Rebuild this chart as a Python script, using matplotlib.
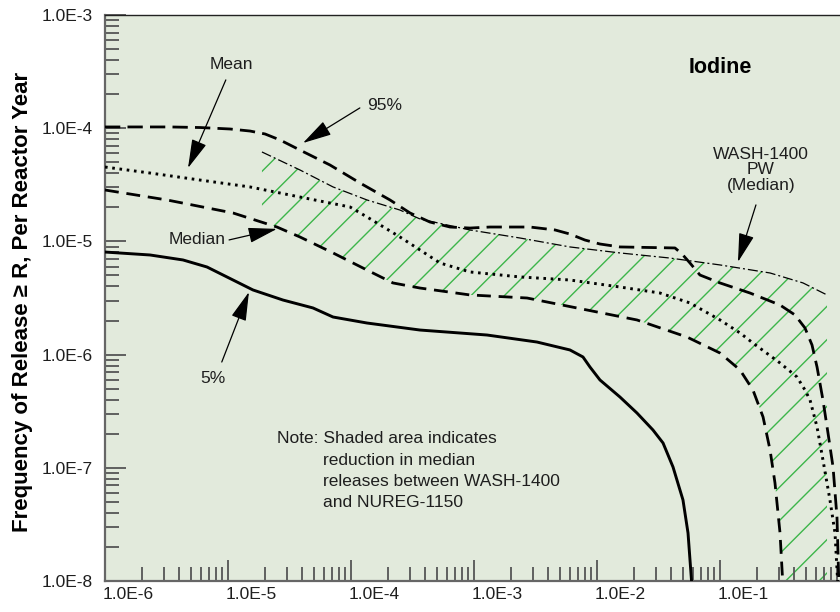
import numpy as np
import matplotlib
matplotlib.use("Agg")
import matplotlib.pyplot as plt
import matplotlib.transforms as mtransforms
from matplotlib import font_manager
from matplotlib.ticker import FixedLocator, LogLocator, NullFormatter

# narrow face if the box has it, else regular Liberation at smaller sizes
names = {f.name for f in font_manager.fontManager.ttflist}
if "Liberation Sans Narrow" in names:
    FAM = ["Liberation Sans Narrow", "DejaVu Sans"]
    FS, FS_Y, FS_T = 15, 19, 18
else:
    FAM = ["Liberation Sans", "DejaVu Sans"]
    FS, FS_Y, FS_T = 12.5, 16, 15.5
plt.rcParams["font.family"] = FAM
plt.rcParams["hatch.linewidth"] = 1.0

BG = "#E2EADC"
GREEN = "#3DB54A"
AXG = "#666666"
TXT = "#1E1E1E"

# ---- data as log10(release), log10(frequency) ----
p95_x = [-6.0, -5.472, -5.228, -4.984, -4.821, -4.699, -4.577, -4.415, -4.171, -3.927,
         -3.683, -3.520, -3.358, -3.195, -3.033, -2.870, -2.545, -2.341, -2.220, -2.098,
         -1.976, -1.813, -1.366, -1.309, -1.244, -1.163, -1.0, -0.756, -0.512, -0.390,
         -0.309, -0.252, -0.211, -0.163, -0.122, -0.081, -0.049, -0.033]
p95_y = [-3.989, -3.989, -3.994, -4.007, -4.025, -4.051, -4.104, -4.193, -4.325, -4.484,
         -4.634, -4.749, -4.829, -4.873, -4.882, -4.873, -4.873, -4.899, -4.935, -4.988,
         -5.023, -5.049, -5.058, -5.111, -5.191, -5.297, -5.367, -5.456, -5.562, -5.650,
         -5.765, -5.915, -6.110, -6.401, -6.693, -6.993, -7.435, -8.05]

mean_x = [-6.0, -5.634, -5.228, -4.821, -4.415, -4.008, -3.870, -3.602, -3.439, -3.276,
          -3.033, -2.626, -2.220, -1.813, -1.488, -1.244, -1.0, -0.837, -0.732, -0.512,
          -0.374, -0.309, -0.268, -0.211, -0.163, -0.106, -0.065, -0.041]
mean_y = [-4.343, -4.396, -4.458, -4.519, -4.608, -4.696, -4.784, -4.961, -5.076, -5.191,
          -5.270, -5.314, -5.341, -5.403, -5.456, -5.544, -5.694, -5.809, -5.898, -6.074,
          -6.198, -6.313, -6.401, -6.640, -6.931, -7.284, -7.576, -8.05]

med_x = [-6.0, -5.496, -4.959, -4.602, -4.415, -4.146, -3.870, -3.659, -3.439, -3.033,
         -2.569, -2.081, -1.675, -1.268, -1.0, -0.837, -0.732, -0.650, -0.593, -0.553,
         -0.512, -0.488]
med_y = [-4.546, -4.634, -4.749, -4.873, -4.961, -5.102, -5.253, -5.367, -5.412, -5.473,
         -5.500, -5.606, -5.694, -5.845, -5.986, -6.136, -6.313, -6.551, -6.843, -7.134,
         -7.576, -8.05]

p05_x = [-6.0, -5.634, -5.366, -5.171, -4.959, -4.797, -4.553, -4.309, -4.146, -3.870,
         -3.439, -2.894, -2.488, -2.220, -2.114, -2.057, -1.976, -1.813, -1.675, -1.545,
         -1.463, -1.382, -1.301, -1.260, -1.228]
p05_y = [-5.094, -5.120, -5.164, -5.226, -5.341, -5.429, -5.518, -5.588, -5.668, -5.721,
         -5.783, -5.827, -5.889, -5.959, -6.021, -6.110, -6.224, -6.375, -6.516, -6.666,
         -6.781, -6.993, -7.284, -7.576, -8.05]

wash_x = [-4.724, -4.415, -4.146, -3.870, -3.602, -3.439, -3.033, -2.626, -2.220, -1.813,
          -1.407, -1.0, -0.593, -0.325, -0.130]
wash_y = [-4.210, -4.369, -4.519, -4.634, -4.723, -4.802, -4.899, -4.970, -5.049, -5.102,
          -5.147, -5.208, -5.279, -5.367, -5.473]

xticks = [1e-6, 1e-5, 1e-4, 1e-3, 1e-2, 1e-1, 1e0]
xlabels = ["1.0E-6", "1.0E-5", "1.0E-4", "1.0E-3", "1.0E-2", "1.0E-1", "1"]
yticks = [1e-8, 1e-7, 1e-6, 1e-5, 1e-4, 1e-3]
ylabels = ["1.0E-8", "1.0E-7", "1.0E-6", "1.0E-5", "1.0E-4", "1.0E-3"]

fig = plt.figure(figsize=(8.4, 6.12), dpi=100)
ax = fig.add_axes([105 / 840, 31 / 612, 738 / 840, 566 / 612])
ax.set_facecolor(BG)
ax.set_xscale("log")
ax.set_yscale("log")
ax.set_xlim(1e-6, 1e0)
ax.set_ylim(1e-8, 1e-3)

# hatched band: WASH-1400 median down to NUREG-1150 median
wx, wy = np.array(wash_x), np.array(wash_y)
mx, my = np.array(med_x), np.array(med_y)
keep = mx > wx[0]
px = np.concatenate([wx, [wx[-1]], mx[keep][::-1], [wx[0]]])
py = np.concatenate([wy, [-8.05], my[keep][::-1], [np.interp(wx[0], mx, my)]])
ax.fill(10 ** px, 10 ** py, facecolor="none", edgecolor=GREEN, hatch="/",
        linewidth=0, zorder=1)

ax.plot(10 ** np.array(p95_x), 10 ** np.array(p95_y), color="k", lw=2.0,
        ls=(0, (5.5, 2.6)), zorder=3)
ax.plot(10 ** np.array(med_x), 10 ** np.array(med_y), color="k", lw=2.0,
        ls=(0, (5.0, 2.8)), zorder=3)
ax.plot(10 ** np.array(mean_x), 10 ** np.array(mean_y), color="k", lw=2.1,
        ls=(0, (0.9, 1.6)), zorder=3)
ax.plot(10 ** np.array(p05_x), 10 ** np.array(p05_y), color="k", lw=2.1, zorder=3)
ax.plot(10 ** np.array(wash_x), 10 ** np.array(wash_y), color="k", lw=0.9,
        ls=(0, (8, 2.4, 1.6, 2.4)), zorder=3)

# ---- annotations ----
arw = dict(arrowstyle="-|>,head_length=0.9,head_width=0.24", color="k", lw=0.9,
           mutation_scale=20, shrinkA=0, shrinkB=0)
ax.annotate("", xy=(4.73e-6, 4.45e-5), xytext=(9.6e-6, 2.67e-4), arrowprops=arw)
ax.annotate("", xy=(4.07e-5, 7.40e-5), xytext=(1.18e-4, 1.51e-4), arrowprops=arw)
ax.annotate("", xy=(2.5e-5, 1.29e-5), xytext=(1.02e-5, 1.03e-5), arrowprops=arw)
ax.annotate("", xy=(1.48e-5, 3.57e-6), xytext=(8.9e-6, 8.6e-7), arrowprops=arw)
ax.annotate("", xy=(0.140, 6.58e-6), xytext=(0.196, 2.10e-5), arrowprops=arw)

ax.text(1.06e-5, 3.69e-4, "Mean", fontsize=FS, color=TXT, ha="center", va="center")
ax.text(1.89e-4, 1.60e-4, "95%", fontsize=FS, color=TXT, ha="center", va="center")
ax.text(5.6e-6, 1.03e-5, "Median", fontsize=FS, color=TXT, ha="center", va="center")
ax.text(7.55e-6, 6.2e-7, "5%", fontsize=FS, color=TXT, ha="center", va="center")
ax.text(0.215, 4.28e-5, "WASH-1400\nPW\n(Median)", fontsize=FS, color=TXT,
        ha="center", va="center", linespacing=1.05)
ax.text(0.1, 3.47e-4, "Iodine", fontsize=FS_T, fontweight="bold", color="k",
        ha="center", va="center")

ax.text(2.5e-5, 1.80e-7, "Note: Shaded area indicates", fontsize=FS, color=TXT,
        ha="left", va="center")
for yy, line in zip([1.15e-7, 7.5e-8, 4.89e-8],
                    ["reduction in median", "releases between WASH-1400",
                     "and NUREG-1150"]):
    ax.text(5.91e-5, yy, line, fontsize=FS, color=TXT, ha="left", va="center")

fig.text(23 / 840, 0.5065, "Frequency of Release \u2265 R, Per Reactor Year",
         fontsize=FS_Y, fontweight="bold", rotation=90, ha="center", va="center")

# ---- axes styling ----
ax.xaxis.set_major_locator(FixedLocator(xticks))
ax.yaxis.set_major_locator(FixedLocator(yticks))
ax.xaxis.set_minor_locator(LogLocator(base=10, subs=np.arange(2, 10), numticks=20))
ax.yaxis.set_minor_locator(LogLocator(base=10, subs=np.arange(2, 10), numticks=20))
ax.xaxis.set_minor_formatter(NullFormatter())
ax.yaxis.set_minor_formatter(NullFormatter())
ax.set_xticklabels(xlabels)
ax.set_yticklabels(ylabels)
ax.tick_params(which="both", direction="in", color="#555555", width=1.3,
               labelsize=FS, labelcolor=TXT)
ax.tick_params(which="major", length=15)
ax.tick_params(which="minor", length=10)
ax.tick_params(axis="y", pad=8.5)
ax.tick_params(axis="x", pad=4.5)

shift = mtransforms.ScaledTranslation(-2 / 72, 0, fig.dpi_scale_trans)
for lab in ax.get_xticklabels():
    lab.set_horizontalalignment("left")
    lab.set_transform(lab.get_transform() + shift)

for side in ["left", "bottom"]:
    ax.spines[side].set_color(AXG)
    ax.spines[side].set_linewidth(1.6)
ax.spines["top"].set_color("#222222")
ax.spines["top"].set_linewidth(1.0)
ax.spines["right"].set_visible(False)

fig.savefig("out.png", dpi=100)
